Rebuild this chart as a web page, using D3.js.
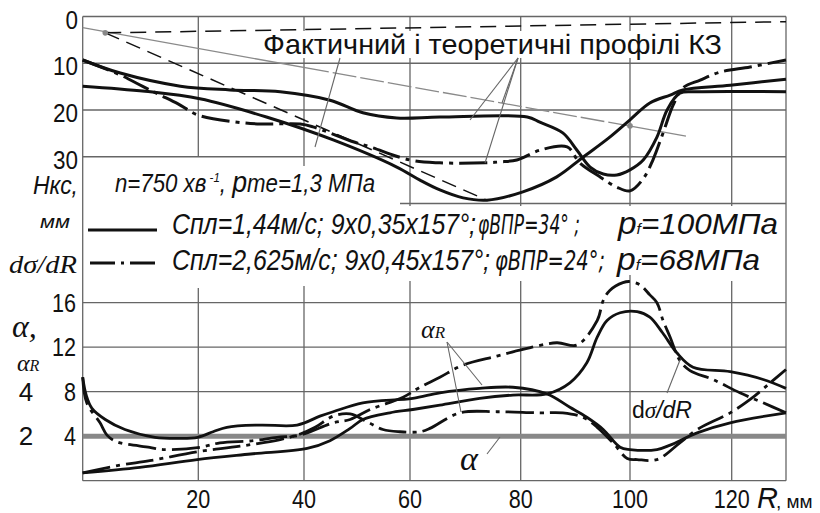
<!DOCTYPE html>
<html>
<head>
<meta charset="utf-8">
<script src="https://cdn.jsdelivr.net/npm/d3@7"></script>
<style>
  body { margin: 0; background: #fff; }
  svg { display: block; }
  .nar { font-family: "Liberation Sans", Arial, sans-serif; }
  .ser { font-family: "Liberation Serif", "DejaVu Serif", serif; font-style: italic; }
  .thin { font-family: "DejaVu Sans", sans-serif; font-weight: 200; font-style: italic; }
</style>
</head>
<body>
<svg id="chart" width="820" height="513"></svg>
<script>
// tick labels
var rTicks = [20, 40, 60, 80, 100, 120];
var hTicks = [0, 10, 20, 30];
var vTicks = [4, 8, 12, 16];
var alphaTicks = [2, 4];

// top panel: profiles H(R), mm
var theoryFlat = [[3.9, 3.5], [130, 1.1]];
var theorySteep = [[3.9, 3.5], [73.9, 39.3]];
var theoryGray = [[0, 2.4], [111, 25.6]];
var grayDots = [[3.9, 3.5], [100, 23.4]];

var profSolidA = [[0, 9.3], [6.5, 12.1], [16.9, 14.9], [26, 15.7], [35.5, 16.1], [44.9, 17.9], [51.1, 20.6],
  [57.5, 21.7], [65.4, 21.5], [81.2, 21.5], [83.5, 22.6], [87.7, 24.9], [90.3, 28.6], [92.7, 32.2],
  [95.1, 33.7], [97.6, 33.9], [100, 32.8], [102.6, 30.7], [105.3, 25.8], [107.3, 20.0], [109.8, 16.4],
  [113.2, 16.1], [130, 16.1]];
var profSolidB = [[0, 14.9], [10.8, 16.0], [20.3, 17.6], [32.9, 21.5], [45.5, 26.4], [57.5, 32.2], [61.8, 35.0],
  [65.4, 37.1], [69.6, 38.8], [73.9, 39.3], [80.4, 37.5], [86.6, 34.3], [91.4, 30.1], [96.3, 25.8],
  [100, 22.1], [103.9, 18.5], [107.9, 16.8], [110.4, 15.7], [119.7, 14.7], [130, 13.4]];
var profDashDot = [[0, 9.3], [6.5, 12.5], [10.3, 14.9], [13.4, 16.8], [16.5, 18.7], [20, 21.1], [27.4, 22.6],
  [31.8, 23.0], [39.3, 23.0], [41.7, 23.6], [44.9, 24.9], [49.3, 26.8], [52.5, 27.9], [60, 30.7],
  [65.4, 31.3], [73.6, 31.3], [76.2, 31.1], [79.3, 30.7], [83.5, 28.6], [88.5, 27.9], [90.8, 31.3],
  [94.5, 34.3], [97.6, 36.5], [100, 37.3], [102.6, 34.7], [104.5, 30.7], [106.5, 24.9], [108.5, 18.9],
  [110.4, 15.3], [113.8, 13.6], [117.7, 11.9], [123.4, 10.8], [130, 9.3]];

// bottom panel: alpha (const), alphaR and d(sigma)/dR
var alphaLine = [[0, 4], [130, 4]];
var botSolidA = [[0, 9.3], [0.6, 7.7], [1.6, 6.5], [3.9, 5.5], [7.3, 4.6], [12.5, 3.9], [16.8, 3.8], [19.9, 3.9],
  [22.8, 4.4], [25.4, 4.8], [31.7, 5.0], [38.7, 5.0], [43, 5.8], [45.5, 6.2], [51.1, 7.0], [60.5, 7.4],
  [65.4, 7.9], [72.6, 8.3], [78.6, 8.4], [84.8, 7.8], [89, 6.6], [92.1, 5.7], [95.1, 4.6], [98.2, 3.0],
  [100, 2.8], [105.3, 2.8], [107.9, 3.2], [113.2, 4.3], [119.7, 5.2], [130, 6.1]];
var botSolidB = [[0, 0.7], [9.9, 1.2], [19.8, 1.9], [29.9, 2.4], [40.6, 2.9], [44.9, 3.6], [48.7, 4.7],
  [51.1, 5.5], [56.2, 6.1], [60.5, 6.4], [65.4, 6.8], [72.6, 7.4], [78.6, 7.7], [84.8, 7.8], [89, 8.8],
  [92.1, 10.6], [94, 12.9], [95.8, 14.4], [98.2, 15.1], [101.4, 15.2], [103.9, 14.7], [106.4, 13.3],
  [109.2, 11.5], [112.4, 10.2], [119.7, 9.8], [125.8, 9.1], [130, 8.3]];
var botDashA = [[0, 9.3], [0.7, 7.0], [3, 5.2], [4.2, 4.1], [5.9, 3.5], [11.6, 3.0], [13.9, 2.8], [20.3, 3.0],
  [24.1, 3.4], [30.4, 3.6], [34.9, 3.9], [39.3, 4.1], [45.5, 5.2], [48.7, 5.5], [52.5, 6.4], [58.7, 7.5],
  [61.8, 8.4], [65.4, 9.3], [69.6, 10.4], [75.7, 11.2], [80.4, 11.8], [86.6, 12.4], [90.3, 12.2],
  [94, 14.4], [95.1, 16.2], [96.3, 17.1], [98.7, 17.8], [100, 17.9], [102, 17.6], [103.9, 16.7],
  [105.3, 16.0], [106.5, 14.4], [107.9, 12.9], [109.8, 10.8], [111.8, 9.9], [116.3, 9.1], [121.5, 7.9],
  [125.8, 7.0], [130, 6.1]];
var botDashB = [[0, 0.7], [6.5, 1.4], [11.6, 1.8], [19.8, 2.6], [27.9, 3.1], [35.5, 3.7], [39.3, 4.2],
  [42.1, 4.8], [45.5, 5.8], [48.7, 6.0], [51.9, 5.3], [54.9, 4.6], [58.1, 4.4], [61.8, 4.4], [63.6, 4.7],
  [69, 6.1], [75.7, 6.2], [83.5, 6.1], [87.7, 6.1], [91.4, 5.7], [94, 4.8], [96.9, 3.4], [99.5, 2.0],
  [101.4, 1.9], [105.3, 1.9], [109.8, 3.4], [113.2, 4.6], [119.7, 6.1], [123.4, 7.3], [127.1, 8.8], [130, 10.0]];

var svg = d3.select("#chart");

// x scale follows the hand drawn grid (spacing not quite even)
var x = d3.scaleLinear()
  .domain([0, 20, 40, 60, 80, 100, 120, 130])
  .range([82.7, 198.3, 304, 410, 520.7, 630, 731.7, 786]);
var yTop = d3.scaleLinear().domain([0, 40]).range([16.5, 203.5]);
var yBot = d3.scaleLinear().domain([0, 16]).range([480.7, 302.7]);

var grid = svg.append("g").attr("stroke", "#666").attr("stroke-width", 1.3);

// top panel grid
hTicks.forEach(function(h) {
  grid.append("line").attr("x1", x(0)).attr("x2", x(130)).attr("y1", yTop(h)).attr("y2", yTop(h));
});
grid.append("line").attr("x1", 400).attr("x2", x(130)).attr("y1", yTop(40)).attr("y2", yTop(40));
var topEnds = {20: 157, 40: 166};
rTicks.forEach(function(r) {
  grid.append("line").attr("x1", x(r)).attr("x2", x(r))
    .attr("y1", yTop(0)).attr("y2", topEnds[r] || 206);
});

// bottom panel grid
[0].concat(vTicks).forEach(function(v) {
  grid.append("line").attr("x1", x(0)).attr("x2", x(130)).attr("y1", yBot(v)).attr("y2", yBot(v));
});
var botStarts = {20: 288, 40: 286, 100: 271};
rTicks.forEach(function(r) {
  grid.append("line").attr("x1", x(r)).attr("x2", x(r))
    .attr("y1", botStarts[r] || 281).attr("y2", yBot(0));
});
// frame sides
grid.append("line").attr("x1", x(0)).attr("x2", x(0)).attr("y1", yTop(0)).attr("y2", yBot(0));
grid.append("line").attr("x1", x(130)).attr("x2", x(130)).attr("y1", yTop(0)).attr("y2", yBot(0));

// white boxes behind the title and the legend
svg.append("rect").attr("x", 262).attr("y", 31).attr("width", 462).attr("height", 27).attr("fill", "#fff");
svg.append("rect").attr("x", 85).attr("y", 207).attr("width", 700).attr("height", 68).attr("fill", "#fff");

var lineTop = d3.line().x(function(d) { return x(d[0]); }).y(function(d) { return yTop(d[1]); })
  .curve(d3.curveCatmullRom.alpha(0.5));
var lineBot = d3.line().x(function(d) { return x(d[0]); }).y(function(d) { return yBot(d[1]); })
  .curve(d3.curveCatmullRom.alpha(0.5));
var straightTop = d3.line().x(function(d) { return x(d[0]); }).y(function(d) { return yTop(d[1]); });

var dashDot = "28,6,4,6";

// theoretical profiles
svg.append("path").attr("d", straightTop(theoryGray)).attr("fill", "none")
  .attr("stroke", "#8a8a8a").attr("stroke-width", 1.3)
  .attr("stroke-dasharray", "250,4,24,4,24,4,24,4,24,4,24,4,24,4,24,4,24,4,24,4,24,4");
svg.append("path").attr("d", straightTop(theoryFlat)).attr("fill", "none")
  .attr("stroke", "#111").attr("stroke-width", 1.5).attr("stroke-dasharray", "16,9");
svg.append("path").attr("d", straightTop(theorySteep)).attr("fill", "none")
  .attr("stroke", "#111").attr("stroke-width", 1.5).attr("stroke-dasharray", "15,8");
svg.selectAll("circle.gd").data(grayDots).enter().append("circle")
  .attr("cx", function(d) { return x(d[0]); }).attr("cy", function(d) { return yTop(d[1]); })
  .attr("r", 2.8).attr("fill", "#888");

// actual profiles
[[profSolidA, null], [profSolidB, null], [profDashDot, dashDot]].forEach(function(s) {
  svg.append("path").attr("d", lineTop(s[0])).attr("fill", "none")
    .attr("stroke", "#111").attr("stroke-width", 3)
    .attr("stroke-dasharray", s[1]);
});

// alpha line
svg.append("path").attr("d", d3.line().x(function(d) { return x(d[0]); }).y(function(d) { return yBot(d[1]); })(alphaLine))
  .attr("stroke", "#888").attr("stroke-width", 5);

[[botSolidA, null], [botSolidB, null], [botDashA, dashDot], [botDashB, dashDot]].forEach(function(s) {
  svg.append("path").attr("d", lineBot(s[0])).attr("fill", "none")
    .attr("stroke", "#111").attr("stroke-width", 2.8)
    .attr("stroke-dasharray", s[1]);
});

// pointer lines
var ptr = svg.append("g").attr("stroke", "#666").attr("stroke-width", 1.1);
ptr.append("line").attr("x1", 340).attr("y1", 58).attr("x2", 315).attr("y2", 147);
[[470, 120], [485, 163], [502, 103]].forEach(function(p) {
  ptr.append("line").attr("x1", 518).attr("y1", 58).attr("x2", p[0]).attr("y2", p[1]);
});
ptr.append("line").attr("x1", 447).attr("y1", 342).attr("x2", 482).attr("y2", 385);
ptr.append("line").attr("x1", 447).attr("y1", 342).attr("x2", 461).attr("y2", 412);
ptr.append("line").attr("x1", 680).attr("y1", 360).attr("x2", 667).attr("y2", 393);
ptr.append("line").attr("x1", 487).attr("y1", 454).attr("x2", 500).attr("y2", 437);

// texts (narrow look made with textLength)
var txt = svg.append("g").attr("fill", "#111");

function narrow(xp, yp, size, width, italic) {
  return txt.append("text").attr("class", "nar").attr("x", xp).attr("y", yp)
    .attr("font-size", size).attr("font-style", italic ? "italic" : "normal")
    .attr("textLength", width).attr("lengthAdjust", "spacingAndGlyphs");
}

narrow(263, 54, 28, 459).text("Фактичний і  теоретичні профілі КЗ");

var t1 = narrow(115, 192, 25, 260, true);
t1.append("tspan").text("n=750 хв");
t1.append("tspan").attr("font-size", 13).attr("dy", -10).text(" -1");
t1.append("tspan").attr("dy", 10).text(", ");
t1.append("tspan").attr("font-size", 30).text("p");
t1.append("tspan").text("me=1,3 МПа");

// legend
svg.append("line").attr("x1", 88).attr("x2", 157).attr("y1", 230).attr("y2", 230)
  .attr("stroke", "#111").attr("stroke-width", 3);
svg.append("line").attr("x1", 90).attr("x2", 157).attr("y1", 263).attr("y2", 263)
  .attr("stroke", "#111").attr("stroke-width", 3).attr("stroke-dasharray", "25,6,3,6");

function legendRow(y, a, b, c, pos) {
  narrow(172, y, 30, pos[0], true).text(a);
  txt.append("text").attr("class", "thin").attr("x", pos[1]).attr("y", y).attr("font-size", 27)
    .attr("textLength", pos[2]).attr("lengthAdjust", "spacingAndGlyphs").text(b);
  var p = narrow(pos[3], y, 30, pos[4], true);
  p.append("tspan").attr("font-size", 32).text("p");
  p.append("tspan").attr("font-size", 15).text("f");
  p.append("tspan").text(c);
}
legendRow(234, "Спл=1,44м/с; 9х0,35х157°;", "φВПР=34°  ;", "=100МПа", [304, 478, 102, 618, 160]);
legendRow(270, "Спл=2,625м/с; 9х0,45х157°;", "φВПР=24°;", "=68МПа", [318, 495, 110, 617, 143]);

// left axis labels
txt.selectAll("text.ht").data(hTicks).enter().append("text").attr("class", "nar ht")
  .attr("x", 78).attr("y", function(d) { return yTop(d) + 12; })
  .attr("text-anchor", "end").attr("font-size", 26)
  .attr("textLength", function(d) { return String(d).length * 12.5; }).attr("lengthAdjust", "spacingAndGlyphs")
  .text(function(d) { return d; });
txt.selectAll("text.vt").data(vTicks).enter().append("text").attr("class", "nar vt")
  .attr("x", 76).attr("y", function(d) { return yBot(d) + 9; })
  .attr("text-anchor", "end").attr("font-size", 26)
  .attr("textLength", function(d) { return String(d).length * 12; }).attr("lengthAdjust", "spacingAndGlyphs")
  .text(function(d) { return d; });
txt.selectAll("text.at").data(alphaTicks).enter().append("text").attr("class", "nar at")
  .attr("x", 26).attr("y", function(d) { return yBot(d * 2) + 9; })
  .attr("text-anchor", "middle").attr("font-size", 26)
  .text(function(d) { return d; });

narrow(33, 194, 26, 45, true).text("Нкс,");
narrow(40, 228, 19, 30, true).text("мм");
txt.append("text").attr("class", "ser").attr("x", 9).attr("y", 273).attr("font-size", 25)
  .attr("textLength", 68).attr("lengthAdjust", "spacingAndGlyphs").text("dσ/dR");
txt.append("text").attr("class", "ser").attr("x", 12).attr("y", 337).attr("font-size", 32).text("α,");
var ar = txt.append("text").attr("class", "ser").attr("x", 17).attr("y", 371).attr("font-size", 24);
ar.append("tspan").text("α");
ar.append("tspan").attr("font-size", 16).text("R");

// bottom axis
txt.selectAll("text.rt").data(rTicks).enter().append("text").attr("class", "nar rt")
  .attr("x", function(d) { return x(d); }).attr("y", 508)
  .attr("text-anchor", "middle").attr("font-size", 25)
  .attr("textLength", function(d) { return String(d).length * 12; }).attr("lengthAdjust", "spacingAndGlyphs")
  .text(function(d) { return d; });
txt.append("text").attr("class", "nar").attr("x", 757).attr("y", 508)
  .attr("font-size", 29).attr("font-style", "italic").text("R");
txt.append("text").attr("class", "nar").attr("x", 776).attr("y", 508)
  .attr("font-size", 19).text(", мм");

// curve labels
var lr = txt.append("text").attr("class", "ser").attr("x", 421).attr("y", 338).attr("font-size", 26);
lr.append("tspan").text("α");
lr.append("tspan").attr("font-size", 17).text("R");
txt.append("text").attr("class", "ser").attr("x", 460).attr("y", 470).attr("font-size", 34).text("α");
var ds = txt.append("text").attr("x", 632).attr("y", 418).attr("font-size", 23);
ds.append("tspan").attr("class", "nar").text("d");
ds.append("tspan").attr("class", "ser").text("σ");
ds.append("tspan").attr("class", "nar").attr("font-style", "italic").text("/dR");
</script>
</body>
</html>
